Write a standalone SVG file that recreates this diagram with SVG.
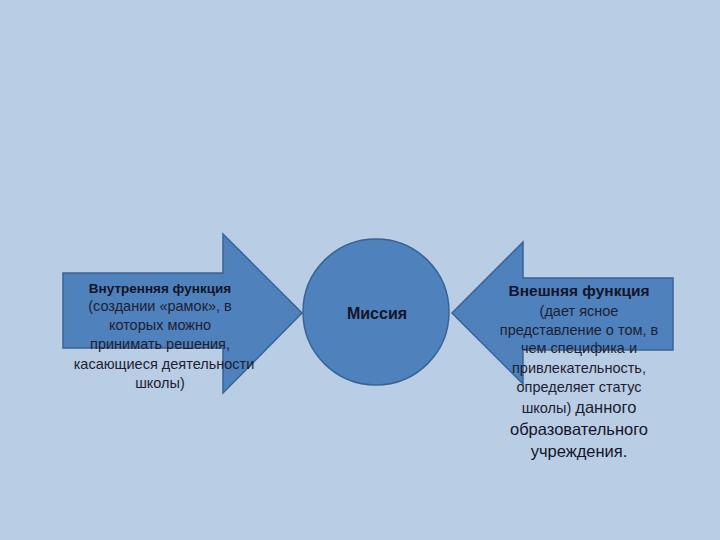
<svg xmlns="http://www.w3.org/2000/svg" width="720" height="540" viewBox="0 0 720 540">
<style>
.shape{fill:#4f81bd;stroke:#3a6394;stroke-width:1.5}
text{font-family:"Liberation Sans","DejaVu Sans",sans-serif;fill:#141428;text-anchor:middle}
.b{font-weight:bold;font-size:13.5px}
.t{font-size:14.5px;fill:#1e1e30}
.l{font-size:16.5px}
</style>
<rect width="720" height="540" fill="#b9cde5"/>
<g id="connectors"></g>
<g id="inner">
<polygon class="shape" points="63,273 223,273 223,234 302,313 223,393 223,348 63,348"/>
<text class="b" x="160" y="293">Внутренняя функция</text>
<text class="t" x="160" y="311">(создании «рамок», в</text>
<text class="t" x="160" y="330">которых можно</text>
<text class="t" x="160" y="349">принимать решения,</text>
<text class="t" x="164" y="369">касающиеся деятельности</text>
<text class="t" x="160" y="388">школы)</text>
</g>
<g id="mission">
<circle class="shape" cx="376" cy="312" r="73"/>
<text class="b" x="377" y="319" style="font-size:16px">Миссия</text>
</g>
<g id="outer">
<polygon class="shape" points="452,313 523,242 523,278 673,278 673,350 523,350 523,384"/>
<text class="b" x="579" y="296" style="font-size:15.5px">Внешняя функция</text>
<text class="t" x="579" y="316">(дает ясное</text>
<text class="t" x="579" y="335">представление о том, в</text>
<text class="t" x="579" y="353">чем специфика и</text>
<text class="t" x="579" y="373">привлекательность,</text>
<text class="t" x="579" y="392">определяет статус</text>
<text class="t" x="579" y="413">школы) <tspan class="l">данного</tspan></text>
<text class="l" x="579" y="435">образовательного</text>
<text class="l" x="579" y="457">учреждения.</text>
</g>
</svg>
